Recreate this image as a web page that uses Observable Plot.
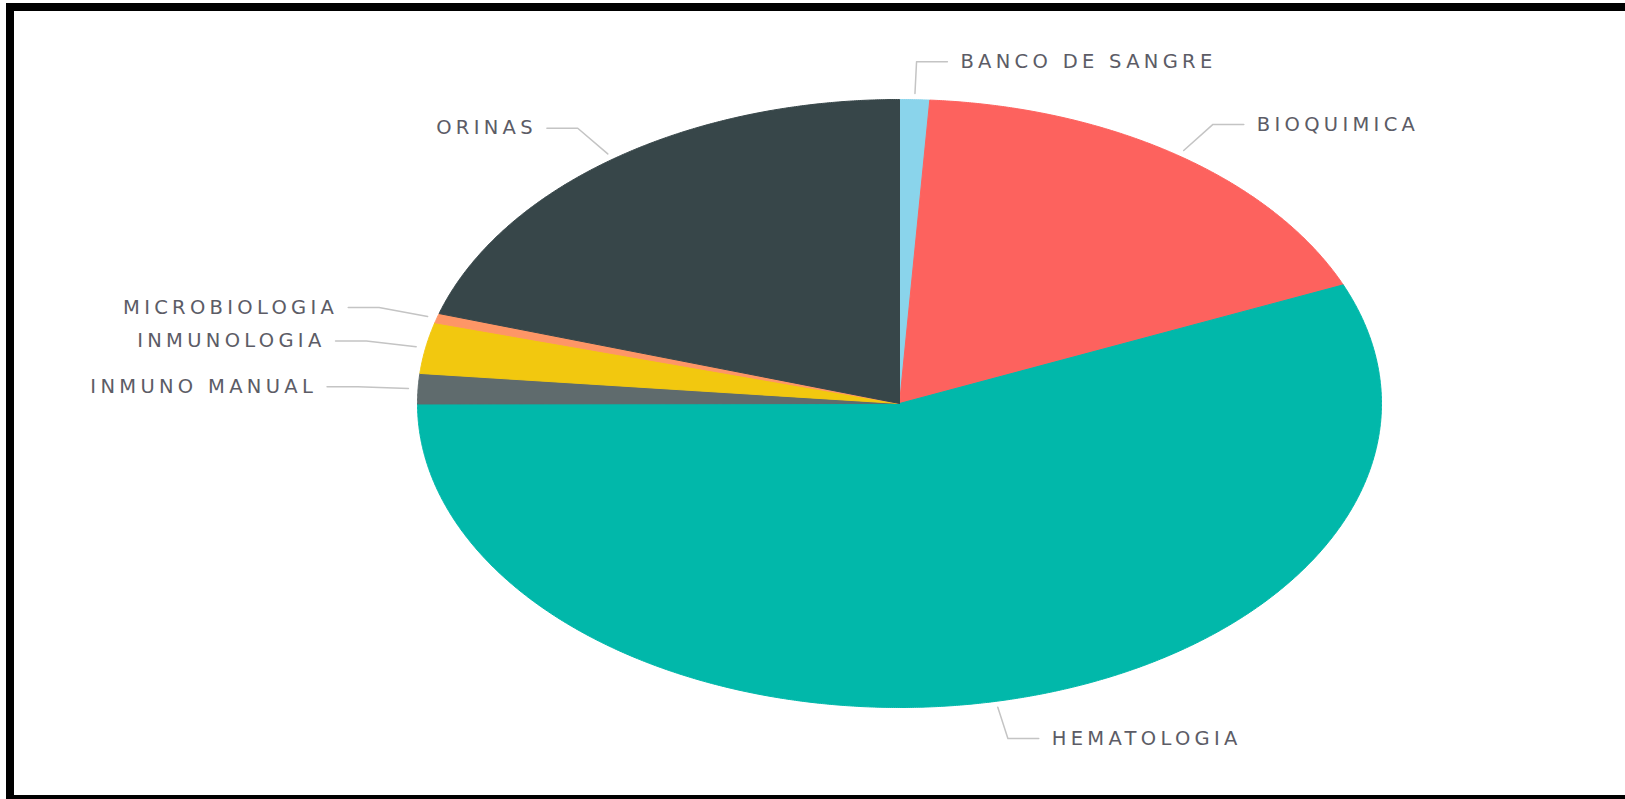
<!DOCTYPE html>
<html><head><meta charset="utf-8">
<script src="https://cdn.jsdelivr.net/npm/d3@7"></script>
<script src="https://cdn.jsdelivr.net/npm/@observablehq/plot@0.6"></script>
<style>
html,body{margin:0;padding:0;background:#fff;overflow:hidden;width:1625px;height:799px}
#frame{position:absolute;left:6px;top:3px;width:1619px;height:796px;box-sizing:border-box;border-left:8px solid #000;border-top:8px solid #000;border-bottom:4px solid #000}
#chart{position:absolute;left:0;top:0}
#chart svg text{letter-spacing:4.3px}
</style></head><body>
<div id="frame"></div>
<div id="chart"></div>
<script>
const categories = ["BANCO DE SANGRE","BIOQUIMICA","HEMATOLOGIA","INMUNO MANUAL","INMUNOLOGIA","MICROBIOLOGIA","ORINAS"];
const values = [1.0, 17.6, 56.3, 1.6, 2.7, 0.5, 20.2];
const colors = ["#8AD4EB","#FD625E","#01B8AA","#5F6B6D","#F2C80F","#FE9666","#374649"];

const data = categories.map((name, i) => ({name, value: values[i]}));
const arcs = d3.pie().sort(null).value(d => d.value)(data);

// slice outlines in unit-circle coordinates; the x/y scales stretch them to the ellipse
const step = Math.PI / 720;
const slicePts = [];
for (const a of arcs) {
  const name = a.data.name;
  slicePts.push({name, x: 0, y: 0});
  const n = Math.max(2, Math.ceil((a.endAngle - a.startAngle) / step));
  for (let k = 0; k <= n; k++) {
    const t = a.startAngle + (a.endAngle - a.startAngle) * k / n;
    slicePts.push({name, x: Math.sin(t), y: Math.cos(t)});
  }
  slicePts.push({name, x: 0, y: 0});
}

// leader lines from mid angles
const leaderPts = [];
const labels = [];
for (const a of arcs) {
  const name = a.data.name;
  const m = (a.startAngle + a.endAngle) / 2;
  const s = Math.sin(m), c = Math.cos(m);
  const side = s >= 0 ? 1 : -1;
  const ex = 1.125 * s, ey = 1.125 * c;
  const hx = ex + side * 0.064;
  leaderPts.push({name, x: 1.02 * s, y: 1.02 * c});
  leaderPts.push({name, x: ex, y: ey});
  leaderPts.push({name, x: hx, y: ey});
  labels.push({name, x: hx, y: ey, side});
}

const chart = Plot.plot({
  width: 1625,
  height: 799,
  marginLeft: 417,
  marginRight: 244,
  marginTop: 99,
  marginBottom: 92,
  x: {domain: [-1, 1], axis: null},
  y: {domain: [-1, 1], axis: null},
  color: {domain: categories, range: colors},
  style: {background: "transparent", overflow: "visible"},
  marks: [
    Plot.line(slicePts, {x: "x", y: "y", z: "name", fill: "name", stroke: "name", strokeWidth: 1, curve: "linear"}),
    Plot.line(leaderPts, {x: "x", y: "y", z: "name", stroke: "#c4c4c4", strokeWidth: 1.5}),
    Plot.text(labels.filter(d => d.side > 0), {x: "x", y: "y", text: "name", textAnchor: "start", dx: 13, fontSize: 19.5, fontFamily: "DejaVu Sans", fill: "#5c5c66"}),
    Plot.text(labels.filter(d => d.side < 0), {x: "x", y: "y", text: "name", textAnchor: "end", dx: -10, fontSize: 19.5, fontFamily: "DejaVu Sans", fill: "#5c5c66"})
  ]
});
document.getElementById("chart").appendChild(chart);
</script>
</body></html>
